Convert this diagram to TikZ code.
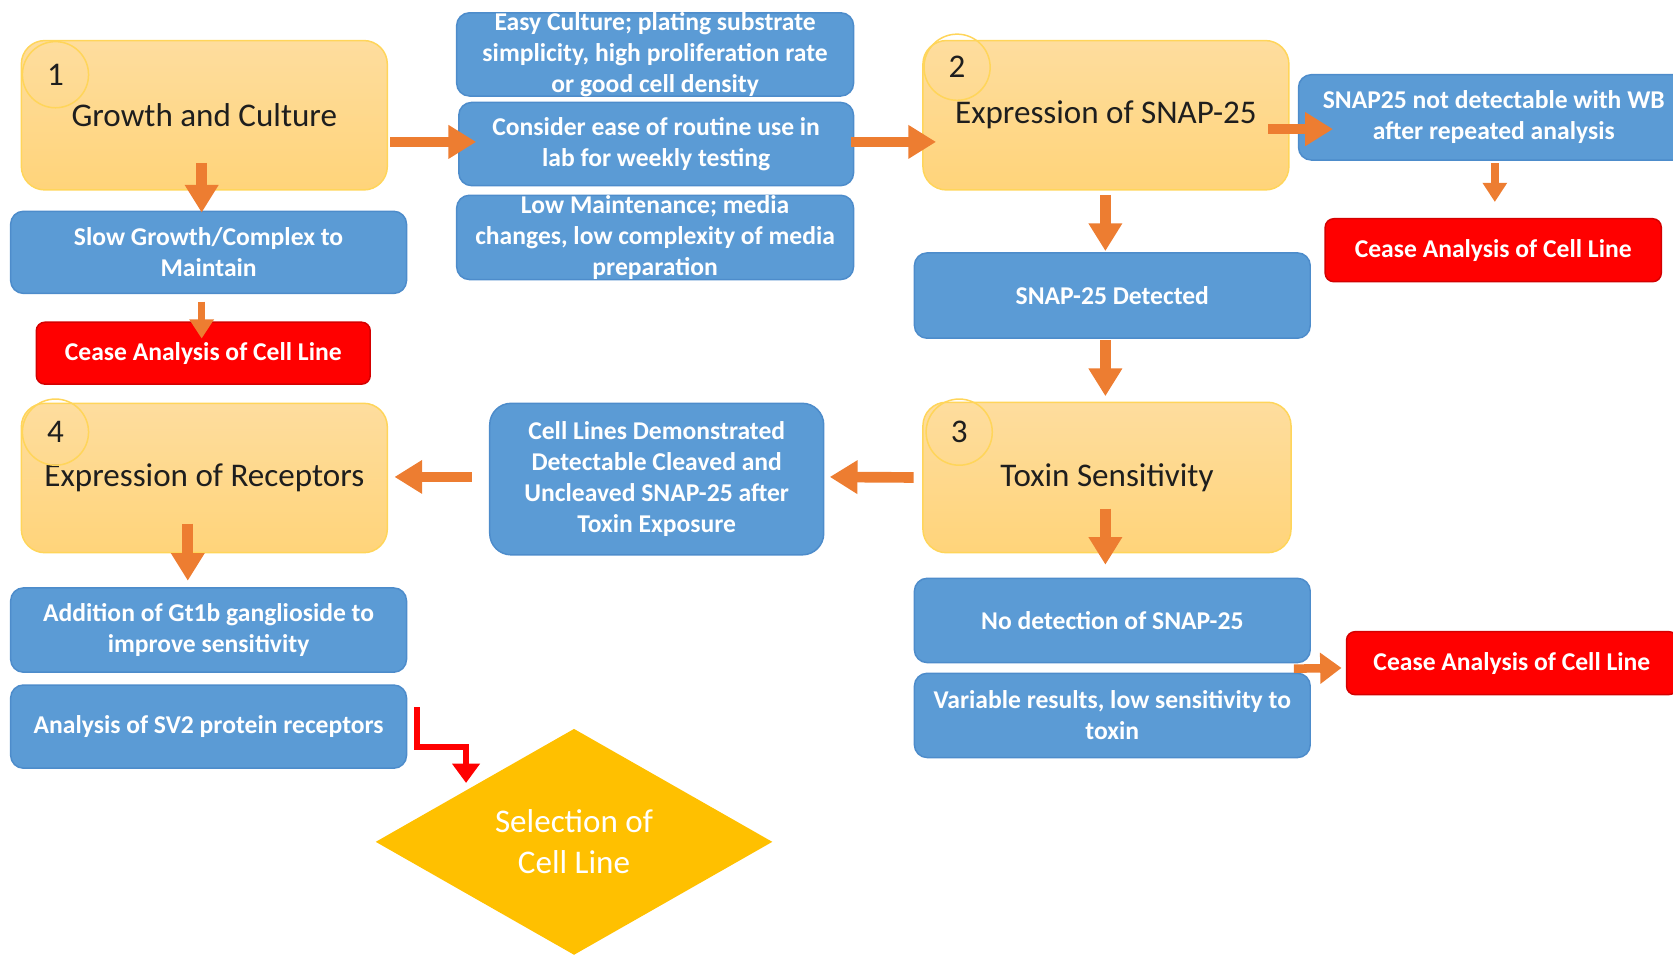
\documentclass[tikz,border=0pt]{standalone}
\usepackage{fontspec}
\setmainfont{Carlito}
\usetikzlibrary{arrows.meta,shapes.geometric}
\definecolor{ytop}{HTML}{FEDD9E}
\definecolor{ybot}{HTML}{FFD47A}
\definecolor{yline}{HTML}{FFD55A}
\definecolor{bfill}{HTML}{5B9BD5}
\definecolor{bline}{HTML}{4D8CCB}
\definecolor{rfill}{HTML}{FF0000}
\definecolor{rline}{HTML}{D40000}
\definecolor{arr}{HTML}{ED7D31}
\definecolor{gold}{HTML}{FFC000}
\definecolor{ink}{HTML}{1E1E1E}
\begin{document}
\begin{tikzpicture}[x=0.5pt,y=-0.5pt,
 ybox/.style={rectangle,rounded corners=11pt,top color=ytop,bottom color=ybot,draw=yline,line width=0.7pt,minimum width=171.5pt,minimum height=70pt,inner sep=0pt,text=ink,font=\fontsize{15.5}{18}\selectfont},
 numc/.style={circle,draw=yline,line width=0.7pt,minimum size=31pt,inner sep=0pt,text=ink,font=\fontsize{15.5}{18}\selectfont},
 bbox/.style={rectangle,rounded corners=6pt,fill=bfill,draw=bline,line width=0.7pt,inner sep=0pt,text=white,align=center,font=\bfseries\fontsize{12}{14.5}\selectfont},
 rbox/.style={rectangle,rounded corners=4pt,fill=rfill,draw=rline,line width=0.7pt,inner sep=0pt,text=white,align=center,font=\bfseries\fontsize{12}{14.5}\selectfont},
 btext/.style={text=white,align=center,inner sep=0pt,font=\bfseries\fontsize{12}{14.5}\selectfont},
 bigarr/.style={draw=arr,line width=5pt,-{Triangle[width=15pt,length=13pt]}},
 smallarr/.style={draw=arr,line width=3.5pt,-{Triangle[width=11pt,length=9pt]}},
 midarr/.style={draw=arr,line width=4pt,-{Triangle[width=14pt,length=10pt]}},
 redarr/.style={draw=rfill,line width=2.5pt,-{Triangle[width=12.5pt,length=9pt]}}
]
\useasboundingbox (0,0) rectangle (1568,895);

% yellow step boxes
\node[ybox] (box1) at (191.5,108) {Growth and Culture};
\node[ybox] (box2) at (1036.5,108) {Expression of SNAP-25};
\node[ybox,minimum width=172.5pt,minimum height=70.5pt] (box3) at (1037.5,447.5) {Toxin Sensitivity};
\node[ybox] (box4) at (191.5,448) {Expression of Receptors};

% blue boxes
\node[bbox,minimum width=186pt,minimum height=39pt] (easy) at (614,51) {};
\node[btext] (easyt) at (easy) {Easy Culture; plating substrate\\simplicity, high proliferation rate\\or good cell density};
\node[bbox,minimum width=185pt,minimum height=39pt] (consider) at (615,135) {Consider ease of routine use in\\lab for weekly testing};
\node[bbox,minimum width=186pt,minimum height=39.5pt] (low) at (614,222.5) {};
\node[btext] (lowt) at (low) {Low Maintenance; media\\changes, low complexity of media\\preparation};
\node[bbox,minimum width=185.5pt,minimum height=38.5pt] (slow) at (195.5,236.5) {Slow Growth/Complex to\\Maintain};
\node[bbox,minimum width=183pt,minimum height=40pt] (snapnot) at (1400,110) {SNAP25 not detectable with WB\\after repeated analysis};
\node[bbox,minimum width=185.5pt,minimum height=40pt] (snapdet) at (1042.5,277) {SNAP-25 Detected};
\node[bbox,minimum width=185.5pt,minimum height=39.5pt] (nodet) at (1042.5,581.5) {No detection of SNAP-25};
\node[bbox,minimum width=185.5pt,minimum height=39.5pt] (var) at (1042.5,670.5) {Variable results, low sensitivity to\\toxin};
\node[bbox,rounded corners=10pt,minimum width=156.5pt,minimum height=71pt] (cells) at (615.5,449) {Cell Lines Demonstrated\\Detectable Cleaved and\\Uncleaved SNAP-25 after\\Toxin Exposure};
\node[bbox,minimum width=185.5pt,minimum height=39.5pt] (addit) at (195.5,590.5) {Addition of Gt1b ganglioside to\\improve sensitivity};
\node[bbox,minimum width=185.5pt,minimum height=39pt] (sv2) at (195.5,681) {Analysis of SV2 protein receptors};

% red boxes
\node[rbox,minimum width=156.5pt,minimum height=29pt] (cease1) at (190.5,331) {Cease Analysis of Cell Line};
\node[rbox,minimum width=157.5pt,minimum height=29.5pt] (cease2) at (1399.5,234.5) {Cease Analysis of Cell Line};
\node[rbox,minimum width=155pt,minimum height=29.5pt] (cease3) at (1417,621.5) {Cease Analysis of Cell Line};

% decision
\node[diamond,shape aspect=1.75,fill=gold,minimum width=186pt,minimum height=106pt,inner sep=0pt,text=white,align=center,font=\fontsize{15.5}{19}\selectfont] (diam) at (538,789) {Selection of\\Cell Line};

% number circles
\node[numc] (n1) at (52,70) {1};
\node[numc] (n2) at (897,63) {2};
\node[numc] (n3) at (899,405) {3};
\node[numc] (n4) at (52,405) {4};

% connectors
\draw[bigarr] ([xshift=-1.25pt,yshift=13pt]box1.south) -- ([xshift=-3.25pt,yshift=-1pt]slow.north);
\draw[smallarr] ([xshift=-3.25pt,yshift=-3.5pt]slow.south) -- ([xshift=-0.75pt,yshift=-8pt]cease1.north);
\draw[bigarr] ([xshift=1pt,yshift=-12.5pt]box1.east) -- ([xshift=8.5pt,yshift=1pt]consider.west);
\draw[bigarr] ([xshift=-1.5pt,yshift=1pt]consider.east) -- ([xshift=6.5pt,yshift=-12.5pt]box2.west);
\draw[bigarr] ([xshift=-10pt,yshift=-6.5pt]box2.east) -- ([xshift=16.5pt,yshift=-5.5pt]snapnot.west);
\draw[smallarr] ([xshift=0.5pt,yshift=-1pt]snapnot.south) -- ([xshift=0.75pt,yshift=7.5pt]cease2.north);
\draw[bigarr] ([xshift=-0.25pt,yshift=-2pt]box2.south) -- ([xshift=-3.25pt,yshift=0.5pt]snapdet.north);
\draw[bigarr] ([xshift=-3.25pt,yshift=-0.5pt]snapdet.south) -- ([xshift=-0.75pt,yshift=2.5pt]box3.north);
\draw[bigarr] ([xshift=-0.75pt,yshift=21pt]box3.south) -- ([xshift=-3.25pt,yshift=6pt]nodet.north);
\draw[bigarr] ([xshift=-4pt]box3.west) -- ([xshift=2.5pt,yshift=1pt]cells.east);
\draw[bigarr] ([xshift=-8pt,yshift=1pt]cells.west) -- ([xshift=3pt,yshift=0.5pt]box4.east);
\draw[bigarr] ([xshift=-7.75pt,yshift=14pt]box4.south) -- ([xshift=-9.75pt,yshift=3pt]addit.north);
\draw[midarr] ([xshift=-8pt,yshift=-2.5pt]nodet.south east) -- ([xshift=-2pt,yshift=-2.25pt]cease3.west);
\draw[redarr] ([xshift=4.5pt,yshift=9pt]sv2.east) -- ++(0,37) -| ([xshift=-4pt,yshift=1pt]diam.north west);
\end{tikzpicture}
\end{document}
